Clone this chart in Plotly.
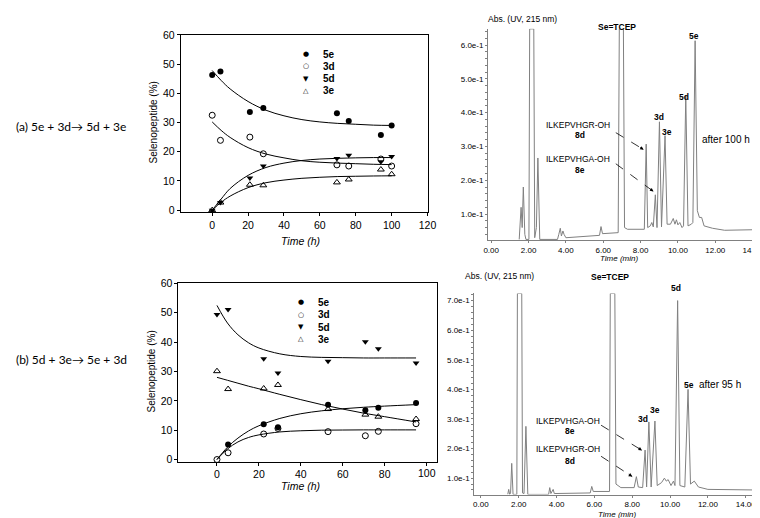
import plotly.graph_objects as go

W, H = 760, 518

# ---------------- data: kinetics (a) 5e + 3d -> 5d + 3e ----------------
series_names = ["5e", "3d", "5d", "3e"]
time_a = [0, 4.6, 21, 28.5, 69.5, 76.1, 94, 100]
a_5e = [46.3, 47.5, 33.6, 35.0, 33.2, 30.5, 25.7, 29.0]
a_3d = [32.5, 23.9, 25.0, 19.3, 15.5, 15.1, 17.5, 15.1]
a_5d = [0.0, 2.6, 11.0, 15.1, 17.7, 18.8, 16.6, 18.4]
a_3e = [0.0, 2.6, 8.7, 8.5, 9.5, 10.5, 13.9, 12.3]

fit_time_a = [0, 5, 10, 20, 30, 40, 50, 60, 70, 80, 90, 100]
fit_a_5e = [47.8, 44.4, 41.5, 37.2, 34.2, 32.3, 31.0, 30.2, 29.7, 29.4, 29.1, 29.0]
fit_a_3d = [30.2, 27.3, 24.9, 21.4, 19.2, 17.9, 16.9, 16.4, 16.1, 15.9, 15.7, 15.6]
fit_a_5d = [0.0, 3.8, 7.4, 11.9, 14.6, 16.1, 17.0, 17.5, 17.75, 17.9, 18.0, 18.0]
fit_a_3e = [0.0, 2.7, 4.8, 7.7, 9.4, 10.3, 10.9, 11.25, 11.5, 11.6, 11.7, 11.75]

# ---------------- data: kinetics (b) 5d + 3e -> 5e + 3d ----------------
time_b = [0, 5.3, 22.3, 29.1, 53, 70.8, 77, 95]
b_5e = [None, 5.1, 12.0, 11.0, 18.7, 16.8, 17.6, 19.3]
b_3d = [0.0, 2.3, 8.7, 10.6, 9.5, 8.1, 9.6, 12.2]
b_5d = [49.4, 51.1, 34.3, 29.5, 33.5, 40.1, 37.7, 32.9]
b_3e = [30.1, 24.0, 24.2, 25.4, 17.2, 15.3, 14.6, 13.8]

fit_time_b = [0, 5, 10, 15, 20, 30, 40, 50, 60, 70, 80, 95]
fit_b_5e = [0.0, 4.2, 7.3, 9.7, 11.5, 14.0, 15.6, 16.6, 17.3, 17.8, 18.2, 18.7]
fit_b_3d = [0.0, 3.6, 6.0, 7.5, 8.4, 9.4, 9.8, 10.0, 10.05, 10.1, 10.1, 10.1]
fit_b_5d = [52.5, 46.5, 42.5, 39.8, 38.0, 36.0, 35.1, 34.8, 34.7, 34.6, 34.6, 34.6]
fit_b_3e = [28.0, 27.0, 26.0, 25.0, 24.1, 22.2, 20.4, 18.7, 17.2, 15.8, 14.6, 12.8]

kin_a_xticks = [0, 20, 40, 60, 80, 100, 120]
kin_b_xticks = [0, 20, 40, 60, 80, 100]
kin_b_xtick_text = ["0", "20", "40", "60", "80", ""]   # last label written separately below
kin_b_last_tick = "100"
kin_yticks = [0, 10, 20, 30, 40, 50, 60]

# ---------------- data: chromatogram after 100 h ----------------
chrom_a_time = [1.50, 1.60, 1.66, 1.72, 1.80, 1.86, 2.02, 2.06, 2.28, 2.33, 2.42, 2.50, 2.60,
                3.55, 3.62, 3.70, 3.76, 3.84, 3.90, 4.00, 5.80, 5.88, 5.96, 6.80, 6.86, 7.08,
                7.14, 7.30, 8.20, 8.30, 8.38, 8.52, 8.60, 8.68, 8.79, 8.88, 9.01, 9.12, 9.31,
                9.42, 9.60, 9.75, 9.84, 9.92, 10.00, 10.10, 10.22, 10.30, 10.42, 10.54, 10.72,
                10.80, 10.92, 11.04, 11.15, 11.27, 11.40, 11.55, 11.72, 11.85, 12.50, 13.20, 14.40]
chrom_a_abs = [0.025, 0.120, 0.060, 0.180, 0.040, 0.025, 0.025, 0.648, 0.648, 0.030, 0.060, 0.266, 0.025,
               0.025, 0.040, 0.058, 0.035, 0.050, 0.040, 0.030, 0.037, 0.063, 0.042, 0.045, 0.648, 0.648,
               0.060, 0.055, 0.055, 0.307, 0.060, 0.065, 0.075, 0.062, 0.157, 0.060, 0.373, 0.062, 0.332,
               0.070, 0.070, 0.087, 0.070, 0.083, 0.068, 0.075, 0.060, 0.065, 0.450, 0.065, 0.070,
               0.075, 0.613, 0.110, 0.090, 0.090, 0.065, 0.062, 0.060, 0.058, 0.052, 0.053, 0.054]

# ---------------- data: chromatogram after 95 h ----------------
chrom_b_time = [1.42, 1.47, 1.52, 1.57, 1.63, 1.70, 1.90, 1.93, 2.16, 2.20, 2.28, 2.38, 2.48,
                3.58, 3.64, 3.70, 3.82, 3.88, 5.78, 5.86, 5.94, 6.80, 6.84, 7.08, 7.14, 7.40,
                8.10, 8.22, 8.32, 8.55, 8.68, 8.76, 8.88, 9.00, 9.20, 9.32, 9.55, 9.70, 9.80,
                9.90, 10.05, 10.18, 10.26, 10.40, 10.52, 10.78, 10.95, 11.08, 11.28, 11.50,
                12.00, 13.20, 14.60]
chrom_b_abs = [0.045, 0.062, 0.045, 0.050, 0.150, 0.045, 0.045, 0.724, 0.724, 0.050, 0.048, 0.275, 0.045,
               0.045, 0.068, 0.048, 0.062, 0.048, 0.050, 0.072, 0.055, 0.055, 0.724, 0.724, 0.080, 0.068,
               0.068, 0.105, 0.070, 0.068, 0.195, 0.070, 0.290, 0.070, 0.293, 0.075, 0.085, 0.100, 0.090,
               0.095, 0.075, 0.090, 0.075, 0.700, 0.075, 0.070, 0.400, 0.080, 0.090, 0.070,
               0.062, 0.060, 0.060]

chrom_xticks = [0, 2, 4, 6, 8, 10, 12, 14]
chrom_xtick_text = ["0.00", "2.00", "4.00", "6.00", "8.00", "10.00", "12.00", "14.00"]
chrom_a_yticks = [0.1, 0.2, 0.3, 0.4, 0.5, 0.6]
chrom_a_ytick_text = ["1.0e-1", "2.0e-1", "3.0e-1", "4.0e-1", "5.0e-1", "6.0e-1"]
chrom_b_yticks = [0.1, 0.2, 0.3, 0.4, 0.5, 0.6, 0.7]
chrom_b_ytick_text = ["1.0e-1", "2.0e-1", "3.0e-1", "4.0e-1", "5.0e-1", "6.0e-1", "7.0e-1"]


def xd(a, b):
    return [a / W, b / W]


def yd(top, bottom):
    return [1 - bottom / H, 1 - top / H]


def PX(x):
    return x / W


def PY(y):
    return 1 - y / H


FONT = "Liberation Sans, Arial, sans-serif"
BLACK = "#000000"
GREY = "#808080"

fig = go.Figure()

marker_styles = {
    "5e": dict(symbol="circle", size=6, color=BLACK),
    "3d": dict(symbol="circle-open", size=6, color=BLACK, line=dict(width=1, color=BLACK)),
    "5d": dict(symbol="triangle-down", size=6, color=BLACK),
    "3e": dict(symbol="triangle-up-open", size=6, color=BLACK, line=dict(width=1, color=BLACK)),
}

pts_a = [a_5e, a_3d, a_5d, a_3e]
fits_a = [fit_a_5e, fit_a_3d, fit_a_5d, fit_a_3e]
pts_b = [b_5e, b_3d, b_5d, b_3e]
fits_b = [fit_b_5e, fit_b_3d, fit_b_5d, fit_b_3e]

for name, fy in zip(series_names, fits_a):
    fig.add_trace(go.Scatter(x=fit_time_a, y=fy, mode="lines", line=dict(color=BLACK, width=1, shape="spline"),
                             showlegend=False, xaxis="x", yaxis="y", hoverinfo="skip"))
for name, py_ in zip(series_names, pts_a):
    fig.add_trace(go.Scatter(x=time_a, y=py_, mode="markers", name=name, marker=marker_styles[name],
                             showlegend=False, xaxis="x", yaxis="y", cliponaxis=False))
for name, fy in zip(series_names, fits_b):
    fig.add_trace(go.Scatter(x=fit_time_b, y=fy, mode="lines", line=dict(color=BLACK, width=1, shape="spline"),
                             showlegend=False, xaxis="x2", yaxis="y2", hoverinfo="skip"))
for name, py_ in zip(series_names, pts_b):
    fig.add_trace(go.Scatter(x=time_b, y=py_, mode="markers", name=name, marker=marker_styles[name],
                             showlegend=False, xaxis="x2", yaxis="y2", cliponaxis=False))

fig.add_trace(go.Scatter(x=chrom_a_time, y=chrom_a_abs, mode="lines", line=dict(color=GREY, width=1),
                         showlegend=False, xaxis="x3", yaxis="y3"))
fig.add_trace(go.Scatter(x=chrom_b_time, y=chrom_b_abs, mode="lines", line=dict(color=GREY, width=1),
                         showlegend=False, xaxis="x4", yaxis="y4"))

kin_axis = dict(showline=True, linecolor=BLACK, linewidth=1, mirror=True, ticks="outside", ticklen=3,
                tickcolor=BLACK, showgrid=False, zeroline=False, tickfont=dict(family=FONT, size=10.5, color=BLACK),
                ticklabeloverflow="allow")
chrom_axis = dict(showline=True, linecolor=GREY, linewidth=1, mirror=False, ticks="outside", ticklen=2,
                  tickcolor=GREY, showgrid=False, zeroline=False, tickfont=dict(family=FONT, size=8, color=BLACK),
                  ticklabeloverflow="allow")

XB_RANGE = [-18.4, 105]
XB_DOM = (168.3, 431.4)

fig.update_layout(
    width=W, height=H, margin=dict(l=0, r=0, t=0, b=0),
    paper_bgcolor="white", plot_bgcolor="white", showlegend=False,
    xaxis=dict(kin_axis, domain=xd(170.7, 422.3), range=[-17.5, 120.3], tickvals=kin_a_xticks, anchor="y"),
    yaxis=dict(kin_axis, domain=yd(21.3, 202), range=[-0.67, 60], tickvals=kin_yticks, anchor="x"),
    xaxis2=dict(kin_axis, domain=xd(*XB_DOM), range=XB_RANGE, tickvals=kin_b_xticks,
                ticktext=kin_b_xtick_text, anchor="y2"),
    yaxis2=dict(kin_axis, domain=yd(274.7, 456.7), range=[-0.8, 60], tickvals=kin_yticks, anchor="x2"),
    xaxis3=dict(chrom_axis, domain=xd(483.3, 758), range=[-0.17, 14.29], tickvals=chrom_xticks,
                ticktext=chrom_xtick_text, anchor="y3"),
    yaxis3=dict(chrom_axis, domain=yd(15, 230.5), range=[0.0231, 0.6485], tickvals=chrom_a_yticks,
                ticktext=chrom_a_ytick_text, anchor="x3",
                minor=dict(ticks="outside", ticklen=2, dtick=0.02, tickcolor=GREY)),
    xaxis4=dict(chrom_axis, domain=xd(469.3, 758), range=[-0.35, 14.65], tickvals=chrom_xticks,
                ticktext=chrom_xtick_text, anchor="y4"),
    yaxis4=dict(chrom_axis, domain=yd(285, 490), range=[0.0446, 0.724], tickvals=chrom_b_yticks,
                ticktext=chrom_b_ytick_text, anchor="x4",
                minor=dict(ticks="outside", ticklen=2, dtick=0.02, tickcolor=GREY)),
)

ann = []


def text(x, y, s, size=10, bold=False, italic=False, family=FONT, xanchor="center", angle=0):
    t = s
    if bold:
        t = "<b>" + t + "</b>"
    if italic:
        t = "<i>" + t + "</i>"
    ann.append(dict(x=PX(x), y=PY(y), xref="paper", yref="paper", text=t, showarrow=False,
                    xanchor=xanchor, yanchor="middle", textangle=angle,
                    font=dict(family=family, size=size, color=BLACK)))


# last tick label of the (b) time axis (pixel position of its tick on that axis)
x_last_px = XB_DOM[0] + (kin_b_xticks[-1] - XB_RANGE[0]) / (XB_RANGE[1] - XB_RANGE[0]) * (XB_DOM[1] - XB_DOM[0])
text(x_last_px, 468.5, kin_b_last_tick, size=10.5)

# left panel captions
text(1, 115, "(a) 5e + 3d\u2192 5d + 3e", size=12, family="Lato, sans-serif", xanchor="left")
text(1, 352, "(b) 5d + 3e\u2192 5e + 3d", size=12, family="Lato, sans-serif", xanchor="left")

# kinetics axis titles
text(143, 111, "Selenopeptide (%)", size=10, angle=-90)
text(141, 365, "Selenopeptide (%)", size=10, angle=-90)
text(293, 231, "Time (h)", size=10.5, italic=True)
text(293, 481, "Time (h)", size=10.5, italic=True)

# in-plot legends
glyphs = {"5e": "\u25CF", "3d": "\u25CB", "5d": "\u25BC", "3e": "\u25B3"}
for i, name in enumerate(series_names):
    ann.append(dict(x=PX(297.7), y=PY(41 + i * 12.4), xref="paper", yref="paper", text=glyphs[name],
                    showarrow=False, xanchor="center", yanchor="middle",
                    font=dict(family="DejaVu Sans", size=7, color=BLACK)))
    text(313.5, 41 + i * 12.4, name, size=10, bold=True, xanchor="left")
    ann.append(dict(x=PX(292.7), y=PY(294 + i * 12.6), xref="paper", yref="paper", text=glyphs[name],
                    showarrow=False, xanchor="center", yanchor="middle",
                    font=dict(family="DejaVu Sans", size=7, color=BLACK)))
    text(308.5, 294 + i * 12.6, name, size=10, bold=True, xanchor="left")

# chromatogram (top) labels
text(518, 5, "Abs. (UV, 215 nm)", size=8.5)
text(615, 13, "Se=TCEP", size=8.5, bold=True)
text(693, 22, "5e", size=8.5, bold=True)
text(683, 85, "5d", size=8.5, bold=True)
text(657, 105, "3d", size=8.5, bold=True)
text(665, 120, "3e", size=8.5, bold=True)
text(725, 128, "after 100 h", size=10)
text(575, 113, "ILKEPVHGR-OH", size=8.5)
text(577, 123.5, "8d", size=8.5, bold=True)
text(575, 147.5, "ILKEPVHGA-OH", size=8.5)
text(577, 159.5, "8e", size=8.5, bold=True)
text(617, 249.5, "Time (min)", size=8, italic=True)

# chromatogram (bottom) labels
text(495, 267, "Abs. (UV, 215 nm)", size=8.5)
text(607, 268.5, "Se=TCEP", size=8.5, bold=True)
text(675, 279.5, "5d", size=8.5, bold=True)
text(688, 378.5, "5e", size=8.5, bold=True)
text(719, 378, "after 95 h", size=10)
text(653, 404, "3e", size=8.5, bold=True)
text(641, 412.5, "3d", size=8.5, bold=True)
text(565, 415, "ILKEPVHGA-OH", size=8.5)
text(567, 425, "8e", size=8.5, bold=True)
text(565, 443.5, "ILKEPVHGR-OH", size=8.5)
text(567, 456, "8d", size=8.5, bold=True)
text(615, 510, "Time (min)", size=8, italic=True)

# dashed arrows
arrows = [((613.3, 121), (641.7, 138.3)), ((613.3, 152.7), (651.7, 181)),
          ((598.3, 419.3), (640, 445)), ((598.3, 451), (630, 471.7))]
shapes = []
for (x0, y0), (x1, y1) in arrows:
    shapes.append(dict(type="line", xref="paper", yref="paper", x0=PX(x0), y0=PY(y0), x1=PX(x1), y1=PY(y1),
                       line=dict(color=BLACK, width=0.8, dash="dash")))
    dx, dy = x1 - x0, y1 - y0
    L = (dx * dx + dy * dy) ** 0.5
    ann.append(dict(x=PX(x1), y=PY(y1), xref="paper", yref="paper", text="", showarrow=True,
                    ax=-dx / L * 6, ay=-dy / L * 6, axref="pixel", ayref="pixel",
                    arrowhead=2, arrowsize=0.9, arrowwidth=0.8, arrowcolor=BLACK))

fig.update_layout(annotations=ann, shapes=shapes)
fig.write_html("out.html")
